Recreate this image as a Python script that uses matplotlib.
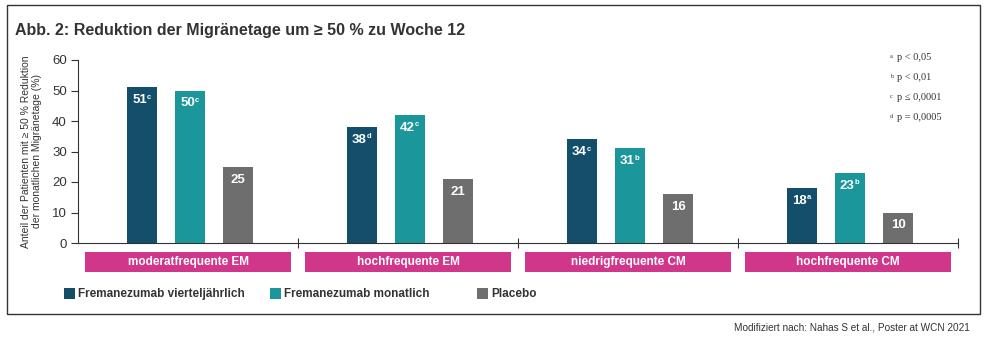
import matplotlib.pyplot as plt
from matplotlib.patches import Rectangle
import numpy as np

plt.rcParams['font.family'] = ['Liberation Sans', 'DejaVu Sans']

groups = ['moderatfrequente EM', 'hochfrequente EM', 'niedrigfrequente CM', 'hochfrequente CM']
series = ['Fremanezumab vierteljährlich', 'Fremanezumab monatlich', 'Placebo']
quarterly = [51, 38, 34, 18]
monthly = [50, 42, 31, 23]
placebo = [25, 21, 16, 10]
sup_quarterly = ['c', 'd', 'c', 'a']
sup_monthly = ['c', 'c', 'b', 'b']
sup_placebo = ['', '', '', '']
foot_letters = ['a', 'b', 'c', 'd']
foot_texts = ['p < 0,05', 'p < 0,01', 'p ≤ 0,0001', 'p = 0,0005']

colors = ['#134e6b', '#1b979c', '#6e6e6e']
pink = '#d0378b'
ink = '#333333'
W, H = 990, 341

fig = plt.figure(figsize=(W / 100, H / 100), dpi=100)
ax = fig.add_axes([78 / W, 1 - 243 / H, (958 - 78) / W, (243 - 60) / H])

x = np.arange(len(groups))
off = 48 / 220
bw = 30 / 220
for i, (vals, sups) in enumerate(zip([quarterly, monthly, placebo],
                                     [sup_quarterly, sup_monthly, sup_placebo])):
    pos = x + (i - 1) * off + 0.01
    bars = ax.bar(pos, vals, width=bw, color=colors[i])
    for b, v, s in zip(bars, vals, sups):
        cx = b.get_x() + b.get_width() / 2
        shift = -2 if s else 0
        ax.annotate(str(v), (cx, v), xytext=(shift, -5), textcoords='offset points',
                    ha='center', va='top', color='white', fontsize=9.5, fontweight='bold')
        if s:
            ax.annotate(s, (cx, v), xytext=(shift + 5, -4.5), textcoords='offset points',
                        ha='left', va='top', color='white', fontsize=5.5, fontweight='bold')

ax.set_xlim(-0.5, 3.5)
ax.set_ylim(0, 60)
ax.set_yticks(range(0, 61, 10))
ax.set_xticks([0.5, 1.5, 2.5, 3.5])
ax.set_xticklabels([])
ax.tick_params(axis='x', direction='inout', length=7, width=0.8, color=ink)
ax.tick_params(axis='y', direction='out', length=5, width=0.8, color=ink,
               labelsize=9.5, labelcolor=ink, pad=3)
for side in ['top', 'right']:
    ax.spines[side].set_visible(False)
for side in ['left', 'bottom']:
    ax.spines[side].set_color(ink)
    ax.spines[side].set_linewidth(0.8)

ax.set_ylabel('Anteil der Patienten mit ≥ 50 % Reduktion\nder monatlichen Migränetage (%)',
              fontsize=7.5, color=ink, labelpad=7, linespacing=1.15)

# pink group labels under the axis
trans = ax.get_xaxis_transform()
for gx, name in zip(x, groups):
    ax.add_patch(Rectangle((gx - 0.47, -0.158), 0.94, 0.109, transform=trans,
                           color=pink, clip_on=False, lw=0))
    ax.text(gx, -0.103, name, transform=trans, ha='center', va='center',
            color='white', fontsize=8.5, fontweight='bold')

# legend
for xs, name, c in zip([64, 270, 477], series, colors):
    fig.patches.append(Rectangle((xs / W, 1 - 299 / H), 11 / W, 11 / H,
                                 transform=fig.transFigure, color=c, lw=0))
    fig.text((xs + 14) / W, 1 - 294 / H, name, ha='left', va='center',
             fontsize=8.5, fontweight='bold', color=ink)

# significance footnotes
for k, (letter, t) in enumerate(zip(foot_letters, foot_texts)):
    yk = 1 - (58 + k * 20) / H
    fig.text(890 / W, yk + 2 / H, letter, ha='left', va='center',
             fontsize=4.5, color=ink, family=['Liberation Serif'])
    fig.text(897 / W, yk, t, ha='left', va='center',
             fontsize=7.5, color=ink, family=['Liberation Serif'])

fig.text(15 / W, 1 - 30 / H, 'Abb. 2: Reduktion der Migränetage um ≥ 50 % zu Woche 12',
         ha='left', va='center', fontsize=11.5, fontweight='bold', color=ink)

fig.text(970 / W, 1 - 327 / H, 'Modifiziert nach: Nahas S et al., Poster at WCN 2021',
         ha='right', va='center', fontsize=7.2, color=ink)

# frame
fig.patches.append(Rectangle((7 / W, 1 - 314 / H), 973 / W, 309 / H, transform=fig.transFigure,
                             fill=False, edgecolor=ink, lw=1))

fig.savefig('out.png', dpi=100)
